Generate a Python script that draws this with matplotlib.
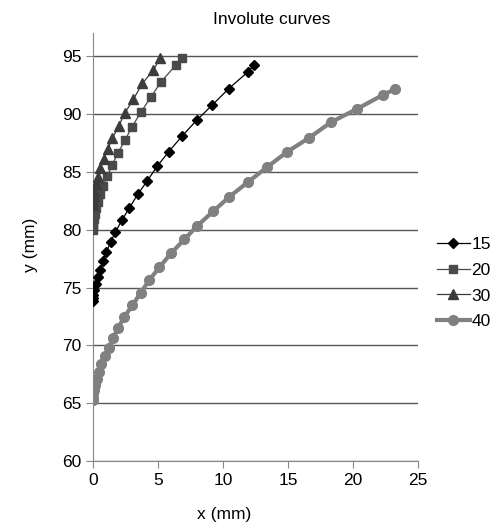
import matplotlib
matplotlib.use('Agg')
import matplotlib.pyplot as plt

plt.rcParams['font.family'] = ['Liberation Sans', 'DejaVu Sans']

# z = 15 teeth
x15 = [0.0, 0.0, 0.03, 0.1, 0.2, 0.36, 0.54, 0.74, 1.03, 1.36, 1.72, 2.23, 2.8, 3.44,
       4.18, 4.95, 5.82, 6.85, 7.97, 9.18, 10.45, 11.9, 12.4]
y15 = [73.82, 74.08, 74.37, 74.78, 75.27, 75.88, 76.51, 77.29, 78.06, 78.93, 79.79,
       80.83, 81.89, 83.05, 84.23, 85.5, 86.73, 88.09, 89.45, 90.78, 92.2, 93.62, 94.23]

# z = 20
x20 = [0.0, 0.0, 0.02, 0.05, 0.13, 0.23, 0.36, 0.54, 0.8, 1.1, 1.46, 1.9, 2.46, 2.98,
       3.67, 4.44, 5.23, 6.38, 6.87]
y20 = [80.0, 80.2, 80.54, 80.92, 81.35, 81.84, 82.41, 83.05, 83.77, 84.63, 85.56,
       86.59, 87.74, 88.84, 90.14, 91.43, 92.78, 94.23, 94.8]

# z = 30
x30 = [0.0, 0.01, 0.05, 0.1, 0.2, 0.36, 0.54, 0.82, 1.13, 1.49, 1.97, 2.46, 3.1, 3.8,
       4.64, 5.15]
y30 = [82.1, 82.5, 82.9, 83.36, 83.94, 84.57, 85.3, 86.08, 86.94, 87.89, 88.95, 90.1,
       91.26, 92.64, 93.79, 94.8]

# z = 40
x40 = [0.0, 0.01, 0.03, 0.07, 0.17, 0.28, 0.44, 0.64, 0.9, 1.2, 1.54, 1.95, 2.41, 3.03,
       3.67, 4.33, 5.1, 6.0, 7.03, 8.03, 9.26, 10.49, 11.95, 13.4, 14.9, 16.6, 18.3,
       20.28, 22.28, 23.23]
y40 = [65.3, 65.48, 65.77, 66.14, 66.57, 67.06, 67.67, 68.36, 69.07, 69.8, 70.63,
       71.52, 72.47, 73.45, 74.55, 75.64, 76.74, 77.95, 79.16, 80.34, 81.6, 82.84,
       84.14, 85.41, 86.7, 87.92, 89.28, 90.42, 91.63, 92.15]

fig = plt.figure(figsize=(4.95, 5.23), dpi=100)
ax = fig.add_axes([0.1879, 0.1185, 0.6565, 0.8184])

ax.plot(x15, y15, color='black', lw=0.9, marker='D', ms=5, label='15', zorder=4)
ax.plot(x20, y20, color='#4a4a4a', lw=0.9, marker='s', ms=6, label='20', zorder=3)
ax.plot(x30, y30, color='#3c3c3c', lw=0.9, marker='^', ms=6.5, label='30', zorder=3)
ax.plot(x40, y40, color='#808080', lw=3, marker='o', ms=7, label='40', zorder=2)

ax.set_xlim(0, 25)
ax.set_ylim(60, 97)
ax.set_xticks([0, 5, 10, 15, 20, 25])
ax.set_yticks([60, 65, 70, 75, 80, 85, 90, 95])
ax.yaxis.grid(True, color='#555555', lw=1)
ax.set_axisbelow(True)
for s in ['top', 'right']:
    ax.spines[s].set_visible(False)
for s in ['left', 'bottom']:
    ax.spines[s].set_color('#888888')
ax.tick_params(axis='both', colors='#888888', labelcolor='black', labelsize=12.5,
               length=5, direction='out')

fig.text(272/495, 1-20/523, 'Involute curves', ha='center', va='center', fontsize=12.5)
fig.text(224/495, 1-515/523, 'x (mm)', ha='center', va='center', fontsize=12.5)
fig.text(30/495, 1-245/523, 'y (mm)', ha='center', va='center', fontsize=12.5, rotation=90)

fig.legend(loc='center left', bbox_to_anchor=(428/495, 1-283/523), frameon=False,
           fontsize=12.5, handlelength=1.9, handletextpad=0.1, labelspacing=0.62,
           borderpad=0)

fig.savefig('out.png', dpi=100)
